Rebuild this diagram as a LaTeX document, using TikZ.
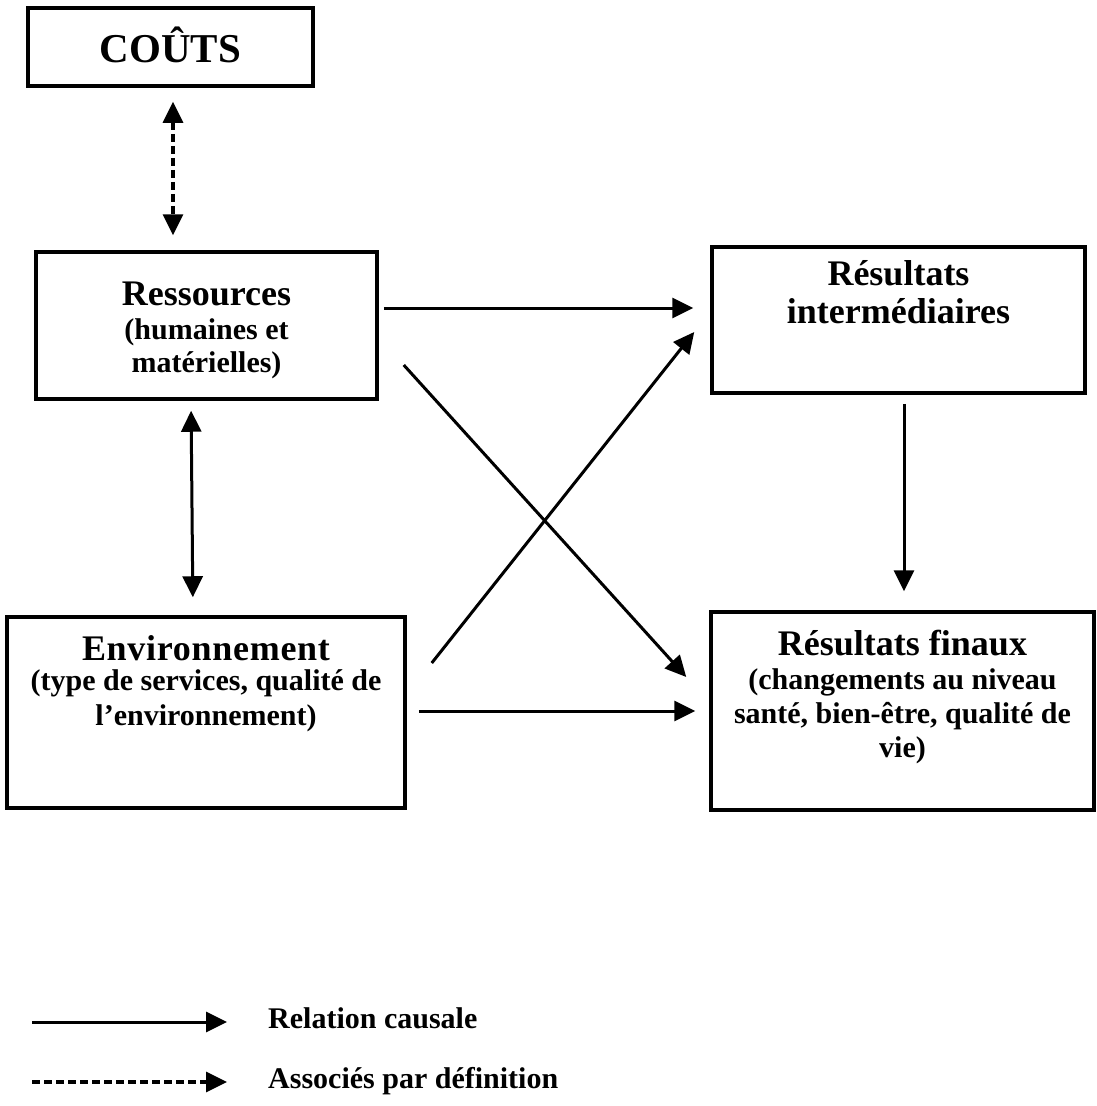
\documentclass[tikz,border=0pt]{standalone}
\usepackage{fontspec}
\setmainfont{Liberation Serif}
\usetikzlibrary{arrows.meta,calc}
\begin{document}
\begin{tikzpicture}[x=1pt,y=-1pt,
  box/.style={draw, line width=3.5pt, inner sep=0pt},
  ttl/.style={font=\fontsize{36}{40}\selectfont\bfseries, anchor=base, inner sep=0pt},
  sub/.style={font=\fontsize{30}{34}\selectfont\bfseries, anchor=base, inner sep=0pt},
  tipA/.tip={Triangle[length=21pt,width=20pt]},
  link/.style={line width=3pt, -tipA},
  twoway/.style={line width=3pt, tipA-tipA},
  assoc/.style={line width=3.2pt, dash pattern=on 8pt off 4pt},
]
\useasboundingbox[fill=white] (0,0) rectangle (1096,1106);

% boxes
\node[box, minimum width=285pt, minimum height=78pt]  (couts) at (170.5,47)  {};
\node[box, minimum width=341pt, minimum height=147pt] (ress)  at (206.5,325.5) {};
\node[box, minimum width=373pt, minimum height=146pt] (ri)    at (898.5,320) {};
\node[box, minimum width=398pt, minimum height=191pt] (env)   at (206,712.5) {};
\node[box, minimum width=383pt, minimum height=198pt] (rf)    at (902.5,711) {};

% box texts
\node[ttl, font=\fontsize{41}{45}\selectfont\bfseries] (coutsT) at (170.5,62) {COÛTS};

\node[ttl] (ressT)  at (206.5,305) {Ressources};
\node[sub] (ressS1) at (206.5,339) {(humaines et};
\node[sub] (ressS2) at (206.5,372) {matérielles)};

\node[ttl] (riT1) at (898.5,285) {Résultats};
\node[ttl] (riT2) at (898.5,323) {intermédiaires};

\node[ttl, font=\fontsize{36}{40}\selectfont\bfseries\addfontfeature{LetterSpace=2}] (envT) at (206,660) {Environnement};
\node[sub] (envS1) at (206,690) {(type de services, qualité de};
\node[sub] (envS2) at (206,725) {l’environnement)};

\node[ttl] (rfT)  at (902.5,655) {Résultats finaux};
\node[sub] (rfS1) at (902.5,689) {(changements au niveau};
\node[sub] (rfS2) at (902.5,723) {santé, bien-être, qualité de};
\node[sub] (rfS3) at (902.5,757) {vie)};

% connectors
\draw[assoc, tipA-tipA, shorten <=14pt, shorten >=15pt]
  ($(couts.south)+(2.5,0)$) -- ($(couts.south |- ress.north)+(2.5,0)$);
\draw[twoway, shorten <=10pt, shorten >=18pt]
  ($(ress.south)+(-15.5,0)$) -- ($(env.north)+(-13,0)$);
\draw[link, shorten <=5pt, shorten >=17pt]
  ($(ress.east)+(0,-17.5)$) -- ($(ri.west)+(0,-12)$);
\draw[link] ($(ress.east)+(25,39.5)$) -- ($(rf.west)+(-23,-34)$);
\draw[link] ($(env.east)+(25,-49.5)$) -- ($(ri.west)+(-16,12)$);
\draw[link] ($(env.east)+(12,-1.5)$) -- ($(rf.west)+(-14,0)$);
\draw[link] ($(ri.south)+(5.5,9)$) -- ($(rf.north)+(1.5,-19)$);

% legend
\coordinate (leg1a) at (32,1022);
\coordinate (leg1b) at (227,1022);
\coordinate (leg2a) at (32,1082);
\coordinate (leg2b) at (227,1082);
\draw[link] (leg1a) -- (leg1b);
\draw[assoc, -tipA] (leg2a) -- (leg2b);
\node[sub, anchor=base west] (legT1) at (268,1028) {Relation causale};
\node[sub, anchor=base west] (legT2) at (268,1088) {Associés par définition};
\end{tikzpicture}
\end{document}
